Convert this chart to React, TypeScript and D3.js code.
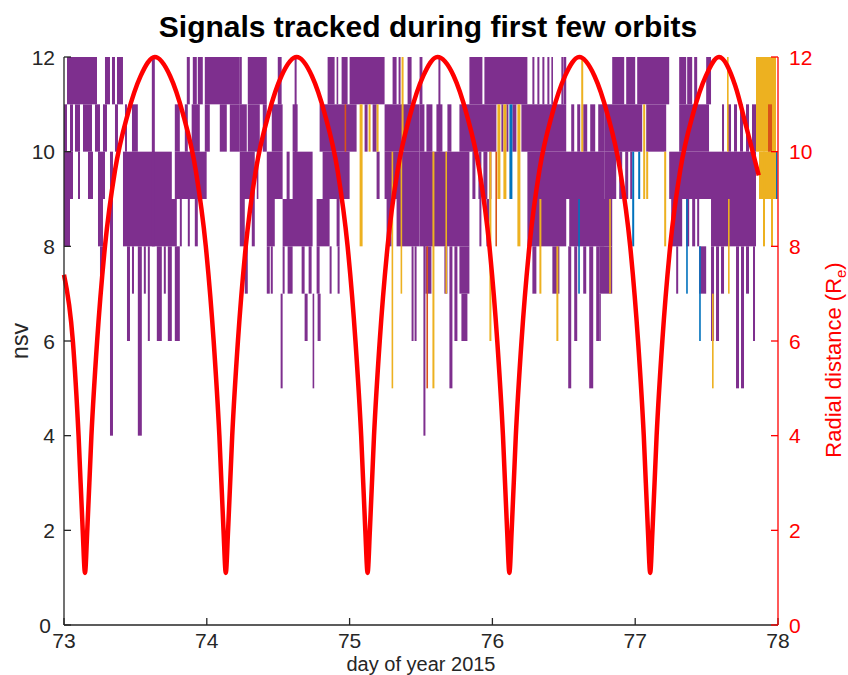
import React from "react";
import * as d3 from "d3";

const xTicks = [73, 74, 75, 76, 77, 78];
const yTicks = [0, 2, 4, 6, 8, 10, 12];
const yRightTicks = [0, 2, 4, 6, 8, 10, 12];

// nsv blocks: [dayStart, dayEnd, nsvLow, nsvHigh]
const purpleBlocks: number[][] = [
  [73.021, 73.231, 11, 12], [73.0, 73.021, 10, 11], [73.042, 73.063, 10, 11], [73.077, 73.112, 10, 11],
  [73.133, 73.196, 10, 11], [73.217, 73.252, 10, 11], [73.0, 73.063, 9, 10], [73.098, 73.112, 9, 10],
  [73.168, 73.203, 9, 10], [73.238, 73.287, 9, 10], [73.0, 73.042, 8, 9], [73.238, 73.273, 8, 9],
  [73.252, 73.273, 7, 8], [73.287, 73.322, 11, 12], [73.336, 73.357, 11, 12], [73.371, 73.413, 11, 12],
  [73.273, 73.301, 10, 11], [73.357, 73.378, 10, 11], [73.427, 73.441, 10, 11], [73.476, 73.517, 10, 11],
  [73.322, 73.343, 4, 10], [73.413, 73.755, 9, 10], [73.413, 73.79, 8, 9], [73.441, 73.462, 6, 8],
  [73.476, 73.49, 7, 8], [73.517, 73.545, 4, 8], [73.559, 73.573, 7, 8], [73.587, 73.601, 6, 8],
  [73.615, 73.636, 8, 12], [73.65, 73.685, 6, 8], [73.699, 73.713, 7, 8], [73.727, 73.755, 6, 8],
  [73.776, 73.811, 6, 8], [73.776, 73.999, 9, 10], [73.776, 73.811, 10, 11], [73.846, 73.867, 10, 11],
  [73.894, 73.951, 10, 11], [73.811, 73.825, 8, 9], [73.867, 73.881, 8, 9], [73.916, 73.937, 8, 9],
  [73.86, 73.881, 11, 12], [73.902, 73.93, 11, 12], [73.937, 73.972, 11, 12], [73.986, 74.231, 11, 12],
  [73.986, 74.021, 10, 11], [74.091, 74.14, 10, 11], [74.161, 74.231, 10, 11],
  [74.231, 74.245, 11, 12], [74.287, 74.42, 11, 12], [74.497, 74.524, 11, 12], [74.615, 74.629, 9, 12],
  [74.846, 74.895, 11, 12], [74.909, 74.916, 11, 12], [74.944, 74.986, 11, 12], [75.0, 75.245, 11, 12],
  [75.301, 75.329, 11, 12], [75.343, 75.357, 11, 12], [75.406, 75.434, 11, 12],
  [74.231, 74.28, 10, 11], [74.287, 74.371, 10, 11], [74.392, 74.42, 10, 11], [74.455, 74.531, 10, 11],
  [74.601, 74.636, 10, 11], [74.79, 75.049, 10, 11], [75.105, 75.126, 10, 11], [75.161, 75.189, 10, 11],
  [75.245, 75.49, 10, 11], [74.231, 74.336, 9, 10], [74.35, 74.357, 9, 10], [74.42, 74.531, 9, 10],
  [74.559, 74.58, 9, 10], [74.601, 74.741, 9, 10], [74.811, 75.0, 9, 10], [75.189, 75.21, 9, 10],
  [75.245, 75.49, 9, 10], [74.231, 74.266, 8, 9], [74.315, 74.336, 8, 9], [74.42, 74.476, 8, 9],
  [74.531, 74.741, 8, 9], [74.769, 74.86, 8, 9], [74.909, 74.93, 8, 9], [75.259, 75.294, 8, 9],
  [75.329, 75.49, 8, 9], [74.266, 74.287, 7, 8], [74.42, 74.441, 7, 8], [74.448, 74.462, 7, 8],
  [74.531, 74.545, 7, 8], [74.566, 74.601, 7, 8], [74.664, 74.685, 7, 8], [74.713, 74.734, 7, 8],
  [74.769, 74.79, 7, 8], [74.86, 74.874, 7, 8], [74.916, 74.93, 7, 8], [75.434, 75.448, 6, 8],
  [75.455, 75.469, 6, 8], [74.517, 74.531, 5, 7], [74.685, 74.706, 6, 7], [74.741, 74.748, 5, 7],
  [74.776, 74.797, 6, 7], [75.517, 75.531, 4, 9],
  [75.49, 75.51, 11, 12], [75.622, 75.636, 10, 12], [75.839, 75.93, 11, 12], [75.944, 76.245, 11, 12],
  [76.28, 76.294, 11, 12], [76.315, 76.329, 11, 12], [76.35, 76.364, 11, 12], [76.385, 76.399, 11, 12],
  [76.413, 76.42, 11, 12], [76.483, 76.49, 11, 12], [76.497, 76.517, 11, 12],
  [75.49, 75.524, 10, 11], [75.538, 75.58, 10, 11], [75.608, 75.65, 10, 11], [75.685, 75.713, 10, 11],
  [75.769, 76.028, 10, 11], [76.063, 76.077, 10, 11], [76.098, 76.112, 10, 11], [76.14, 76.168, 10, 11],
  [76.203, 76.517, 10, 11], [76.552, 76.573, 10, 11], [76.594, 76.615, 10, 11], [76.636, 76.664, 10, 11],
  [76.685, 76.72, 10, 11], [76.741, 76.783, 10, 11], [75.49, 75.839, 9, 10], [75.86, 75.881, 9, 10],
  [75.902, 75.923, 9, 10], [75.937, 75.965, 9, 10], [75.979, 75.993, 9, 10], [76.245, 76.783, 9, 10],
  [75.49, 75.839, 8, 9], [75.909, 75.923, 8, 9], [75.958, 75.979, 8, 9], [76.245, 76.517, 8, 9],
  [76.538, 76.783, 8, 9], [75.531, 75.573, 7, 8], [75.664, 75.685, 7, 8], [75.699, 75.72, 5, 8],
  [75.734, 75.755, 6, 8], [75.769, 75.839, 7, 8], [75.783, 75.825, 6, 7], [76.28, 76.308, 7, 8],
  [76.42, 76.469, 7, 8], [76.531, 76.552, 5, 8], [76.573, 76.594, 6, 8], [76.636, 76.657, 7, 8],
  [76.678, 76.706, 5, 8], [76.727, 76.748, 6, 8],
  [76.839, 76.923, 11, 12], [76.937, 77.0, 11, 12], [77.014, 77.238, 11, 12], [77.308, 77.357, 11, 12],
  [77.364, 77.399, 11, 12], [77.413, 77.434, 11, 12], [77.497, 77.531, 11, 12],
  [76.783, 77.049, 10, 11], [77.077, 77.217, 10, 11], [77.308, 77.517, 10, 11], [77.608, 77.622, 10, 11],
  [77.65, 77.671, 10, 11], [77.692, 77.713, 10, 11], [77.734, 77.755, 10, 11], [77.776, 77.797, 10, 11],
  [77.818, 77.846, 10, 11], [76.783, 76.867, 9, 10], [76.888, 76.909, 9, 10], [76.93, 76.951, 9, 10],
  [76.965, 76.979, 9, 10], [77.238, 77.846, 9, 10], [76.748, 76.839, 8, 9], [77.252, 77.329, 8, 9],
  [77.357, 77.378, 8, 9], [77.399, 77.42, 8, 9], [77.434, 77.448, 8, 9], [77.531, 77.846, 8, 9],
  [76.748, 76.839, 7, 8], [76.748, 76.755, 6, 7], [77.287, 77.301, 7, 8], [77.448, 77.497, 7, 8],
  [77.531, 77.552, 6, 8], [77.566, 77.587, 6, 8], [77.601, 77.622, 7, 8], [77.706, 77.727, 5, 8],
  [77.741, 77.762, 5, 8], [77.776, 77.797, 7, 8], [77.825, 77.839, 6, 8],
];

const orangeBlocks: number[][] = [
  [75.07, 75.091, 8, 11], [75.133, 75.147, 10, 11], [75.189, 75.203, 10, 11], [75.364, 75.378, 10, 12],
  [75.294, 75.301, 5, 10], [75.357, 75.364, 7, 10], [75.58, 75.594, 5, 10], [75.671, 75.678, 7, 10],
  [75.979, 75.993, 6, 10], [76.035, 76.056, 9, 11], [76.077, 76.098, 9, 11], [76.175, 76.196, 8, 11],
  [76.329, 76.343, 7, 9], [76.448, 76.462, 6, 8], [76.622, 76.636, 10, 12], [77.056, 77.07, 9, 11],
  [77.077, 77.091, 9, 10], [77.203, 77.217, 8, 10], [77.538, 77.545, 5, 7], [77.643, 77.65, 10, 12],
  [77.65, 77.657, 7, 9], [76.818, 76.825, 7, 9], [77.846, 77.986, 10, 12], [77.867, 77.986, 9, 10],
  [77.895, 77.909, 8, 10], [77.951, 77.965, 8, 10],
];

const redOrangeBlocks: number[][] = [
  [75.538, 75.545, 5, 8], [77.93, 77.958, 10, 11], [74.965, 74.972, 10, 11], [76.021, 76.028, 8, 10],
];

const blueBlocks: number[][] = [
  [76.119, 76.14, 9, 11], [76.601, 76.608, 7, 9], [76.979, 76.993, 8, 10], [77.021, 77.035, 9, 10],
  [77.357, 77.364, 7, 9], [77.448, 77.455, 6, 8], [77.986, 77.993, 9, 10],
];

// radial distance (Re) vs day
const radialDays = [
  73.0, 73.062, 73.102, 73.131, 73.147, 73.163, 73.192, 73.232, 73.287, 73.357, 73.447, 73.537, 73.636,
  73.743, 73.833, 73.923, 73.993, 74.048, 74.088, 74.117, 74.133, 74.149, 74.178, 74.218, 74.273, 74.343,
  74.433, 74.523, 74.629, 74.736, 74.826, 74.916, 74.986, 75.041, 75.081, 75.11, 75.126, 75.142, 75.171,
  75.211, 75.266, 75.336, 75.426, 75.516, 75.615, 75.729, 75.819, 75.909, 75.979, 76.034, 76.074, 76.103,
  76.119, 76.135, 76.164, 76.204, 76.259, 76.329, 76.419, 76.509, 76.608, 76.715, 76.805, 76.895, 76.965,
  77.02, 77.06, 77.089, 77.105, 77.121, 77.15, 77.19, 77.245, 77.315, 77.405, 77.495, 77.587, 77.7, 77.78,
  77.865,
];
const radialValues = [
  7.4, 6.0, 4.0, 2.0, 1.1, 2.0, 4.0, 6.0, 8.0, 9.6, 10.8, 11.6, 12.0,
  11.6, 10.8, 9.6, 8.0, 6.0, 4.0, 2.0, 1.1, 2.0, 4.0, 6.0, 8.0, 9.6,
  10.8, 11.6, 12.0, 11.6, 10.8, 9.6, 8.0, 6.0, 4.0, 2.0, 1.1, 2.0, 4.0,
  6.0, 8.0, 9.6, 10.8, 11.6, 12.0, 11.6, 10.8, 9.6, 8.0, 6.0, 4.0, 2.0,
  1.1, 2.0, 4.0, 6.0, 8.0, 9.6, 10.8, 11.6, 12.0, 11.6, 10.8, 9.6, 8.0,
  6.0, 4.0, 2.0, 1.1, 2.0, 4.0, 6.0, 8.0, 9.6, 10.8, 11.6, 12.0, 11.4, 10.5,
  9.5,
];

const FONT = "'Liberation Sans', Arial, Helvetica, sans-serif";

export default function App() {
  const x = d3.scaleLinear().domain([73, 78]).range([64, 778]);
  const y = d3.scaleLinear().domain([0, 12]).range([625, 57]);
  const yR = d3.scaleLinear().domain([0, 12]).range([625, 57]);

  const line = d3
    .line<number>()
    .x((_, i) => x(radialDays[i]))
    .y((v) => yR(v))
    .curve(d3.curveMonotoneX);

  const renderBlocks = (blocks: number[][], color: string, key: string) =>
    blocks.map((b, i) => {
      const x0 = x(b[0]);
      const w = Math.max(x(b[1]) - x0, 1.6);
      return (
        <rect
          key={key + i}
          x={x0}
          y={y(b[3])}
          width={w}
          height={y(b[2]) - y(b[3])}
          fill={color}
        />
      );
    });

  const axisColor = "#262626";
  const red = "#ff0000";

  return (
    <svg
      width={848}
      height={675}
      style={{ position: "absolute", left: 0, top: 0, background: "#fff" }}
      fontFamily={FONT}
    >
      <rect x={0} y={0} width={848} height={675} fill="#fff" />
      <text x={428} y={37} textAnchor="middle" fontSize={30} fontWeight="bold" fill="#000">
        Signals tracked during first few orbits
      </text>

      {renderBlocks(purpleBlocks, "#7E2F8E", "p")}
      {renderBlocks(orangeBlocks, "#EDB120", "o")}
      {renderBlocks(redOrangeBlocks, "#D95319", "r")}
      {renderBlocks(blueBlocks, "#0072BD", "b")}

      <path d={line(radialValues) || ""} fill="none" stroke={red} strokeWidth={4.5} strokeLinejoin="round" />

      {/* left axis */}
      <line x1={64} x2={64} y1={57} y2={625} stroke={axisColor} strokeWidth={1.3} />
      {yTicks.map((t) => (
        <g key={"yl" + t}>
          <line x1={64} x2={71} y1={y(t)} y2={y(t)} stroke={axisColor} strokeWidth={1.3} />
          <text x={t === 0 ? 51 : 55} y={y(t)} dy="0.36em" textAnchor="end" fontSize={21} fill={axisColor}>
            {t}
          </text>
        </g>
      ))}
      {/* bottom axis */}
      <line x1={64} x2={778} y1={625} y2={625} stroke={axisColor} strokeWidth={1.3} />
      {xTicks.map((t) => (
        <g key={"xt" + t}>
          <line x1={x(t)} x2={x(t)} y1={625} y2={618} stroke={axisColor} strokeWidth={1.3} />
          <text x={x(t)} y={648} textAnchor="middle" fontSize={21} fill={axisColor}>
            {t}
          </text>
        </g>
      ))}
      <text x={421} y={670.7} textAnchor="middle" fontSize={20} fill={axisColor}>
        day of year 2015
      </text>
      <text
        transform={`translate(28,341) rotate(-90)`}
        textAnchor="middle"
        fontSize={23}
        fill={axisColor}
      >
        nsv
      </text>

      {/* right axis */}
      <line x1={778} x2={778} y1={57} y2={625} stroke={red} strokeWidth={1.3} />
      {yRightTicks.map((t) => (
        <g key={"yr" + t}>
          <line x1={778} x2={771} y1={yR(t)} y2={yR(t)} stroke={red} strokeWidth={1.3} />
          <text x={789} y={yR(t)} dy="0.36em" textAnchor="start" fontSize={21} fill={red}>
            {t}
          </text>
        </g>
      ))}
      <text transform={`translate(841,360) rotate(-90)`} textAnchor="middle" fontSize={22} fill={red}>
        Radial distance (R
        <tspan fontSize={15} dy={5}>e</tspan>
        <tspan dy={-5}>)</tspan>
      </text>
    </svg>
  );
}
